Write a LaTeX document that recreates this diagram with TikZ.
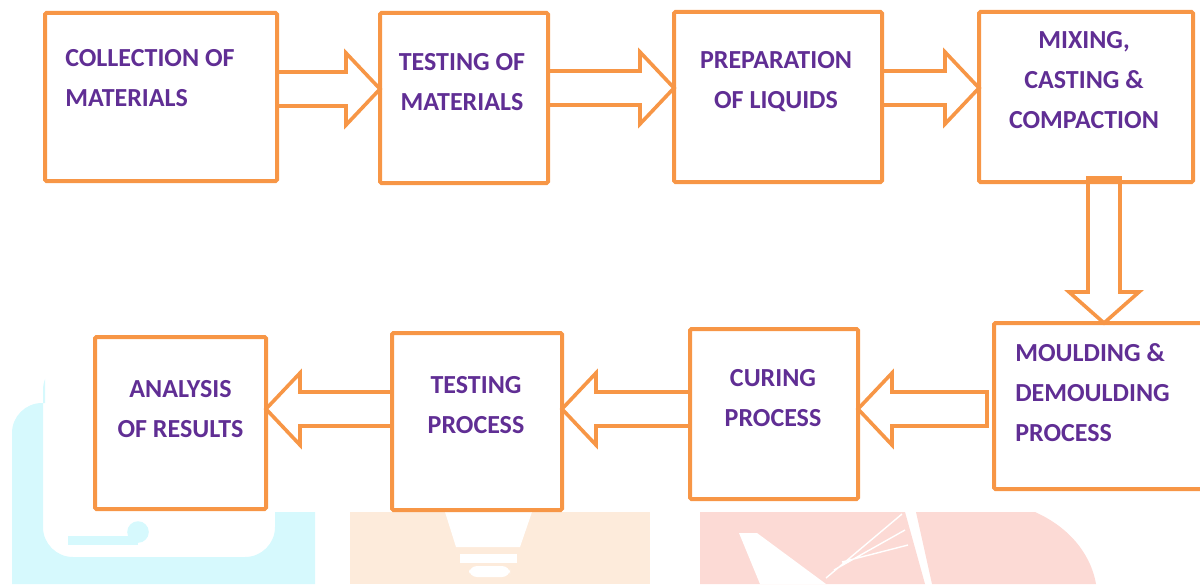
\documentclass[tikz,border=0pt]{standalone}
\usepackage{fontspec}
\setmainfont{Carlito}
\usepackage{tikz}
\usetikzlibrary{calc,positioning}
\definecolor{boxorange}{RGB}{247,150,70}
\definecolor{textpurple}{RGB}{96,46,148}
\definecolor{wmcyan}{RGB}{214,249,253}
\definecolor{wmpeach}{RGB}{253,235,219}
\definecolor{wmpink}{RGB}{252,218,213}
\pgfmathsetmacro{\px}{0.025cm}
\tikzset{
  stage/.style={draw=boxorange, line width=4*\px, rectangle, inner sep=0pt, outer sep=0pt, rounded corners=1pt},
  stagetext/.style={text=textpurple, font=\fontsize{18.5}{28.4}\selectfont\bfseries, inner sep=0pt, align=center, anchor=north},
  flow/.style={draw=boxorange, line width=3.6*\px, line join=miter},
}
% block arrow: start, tip, head length (sign gives direction)
\newcommand{\flowarrow}[3]{%
  \draw[flow] ($(#1)+(0,-17)$) -- ($(#2)-(#3,17)$) -- ($(#2)-(#3,36)$) -- (#2)
    -- ($(#2)-(#3,-36)$) -- ($(#2)-(#3,-17)$) -- ($(#1)+(0,17)$) -- cycle;}

\begin{document}
\begin{tikzpicture}[x=0.025cm, y=-0.025cm]
    \useasboundingbox (0,0) rectangle (1200,584);
    % watermark in the background
    \begin{scope}
        \clip (0,0) -- (45,0) -- (45,512) -- (1200,512) -- (1200,584) -- (0,584) -- cycle;
        \fill[wmcyan, even odd rule, rounded corners=0.75cm] (12,403) rectangle (315,640) (43,360) rectangle (275,557);
        \fill[wmcyan] (138,532) circle[radius=0.27cm];
        \fill[wmcyan] (68,536) rectangle (138,545);
        \fill[wmpeach] (350,512) rectangle (650,584);
        \fill[white] (445,512) -- (532,512) -- (520,547) -- (456,547) -- cycle;
        \fill[white] (460,554) rectangle (517,563);
        \fill[white, rounded corners=0.2cm] (469,566) rectangle (510,577);
        \fill[wmpink] (700,512) -- (905,512) -- (925,584) -- (700,584) -- cycle;
        \fill[wmpink] (916,512) -- (1035,512) .. controls (1075,530) and (1092,560) .. (1096,584) -- (932,584) -- cycle;
        \fill[white] (739,533) -- (757,533) -- (826,584) -- (760,584) -- cycle;
        \draw[white, line width=1pt] (826,578) -- (902,514) (834,570) -- (905,530) (842,562) -- (908,545);
    \end{scope}
    % stages, top row
    \node[stage, minimum width=232*\px, minimum height=168*\px] (col) at (161,97) {};
    \node[stage, minimum width=168*\px, minimum height=170*\px] (tst) at (464,98) {};
    \node[stage, minimum width=208*\px, minimum height=170*\px] (liq) at (778,97) {};
    \node[stage, minimum width=214*\px, minimum height=170*\px] (mix) at (1086,97) {};
    % stages, bottom row
    \node[stage, minimum width=210*\px, minimum height=166*\px] (mou) at (1099,406) {};
    \node[stage, minimum width=168*\px, minimum height=170*\px] (cur) at (774,414) {};
    \node[stage, minimum width=170*\px, minimum height=177*\px] (tpr) at (477,421.5) {};
    \node[stage, minimum width=171*\px, minimum height=172*\px] (ana) at (180.5,423) {};
    % texts
    \node[stagetext, align=left, anchor=north west] (col-t) at ($(col.north west)+(20,36.5)$) {COLLECTION OF\\MATERIALS};
    \node[stagetext] (tst-t) at ($(tst.north)+(-2,40.5)$) {TESTING OF\\MATERIALS};
    \node[stagetext] (liq-t) at ($(liq.north)+(-2,39.5)$) {PREPARATION\\OF LIQUIDS};
    \node[stagetext] (mix-t) at ($(mix.north)+(-2,19.5)$) {MIXING,\\CASTING \&\\COMPACTION};
    \node[stagetext, align=left, anchor=north west] (mou-t) at ($(mou.north west)+(21,20.5)$) {MOULDING \&\\DEMOULDING\\PROCESS};
    \node[stagetext] (cur-t) at ($(cur.north)+(-1,40.5)$) {CURING\\PROCESS};
    \node[stagetext] (tpr-t) at ($(tpr.north)+(-1,43.5)$) {TESTING\\PROCESS};
    \node[stagetext] (ana-t) at ($(ana.north)+(0,43.5)$) {ANALYSIS\\OF RESULTS};
    % arrow ends
    \coordinate (a1s) at (col.east |- 0,89);
    \coordinate (a1t) at (tst.west |- 0,89);
    \coordinate (a2s) at (tst.east |- 0,88);
    \coordinate (a2t) at (liq.west |- 0,88);
    \coordinate (a3s) at (mix.west |- 0,88);
    \coordinate (a3p) at (liq.east |- 0,88);
    \coordinate (a4s) at (1104,178);
    \coordinate (a4t) at (1104,0 |- mou.north);
    \coordinate (a5s) at ($(mou.west |- 0,409)+(-7,0)$);
    \coordinate (a5t) at (cur.east |- 0,409);
    \coordinate (a6s) at (cur.west |- 0,409);
    \coordinate (a6t) at (tpr.east |- 0,409);
    \coordinate (a7s) at (tpr.west |- 0,409);
    \coordinate (a7t) at (ana.east |- 0,409);
    % arrows
    \flowarrow{a1s}{a1t}{34}
    \flowarrow{a2s}{a2t}{34}
    \flowarrow{a3p}{a3s}{34}
    \draw[flow] ($(a4s)+(-16,0)$) -- ($(a4t)+(-16,-31)$) -- ($(a4t)+(-35,-31)$) -- (a4t)
        -- ($(a4t)+(35,-31)$) -- ($(a4t)+(16,-31)$) -- ($(a4s)+(16,0)$) -- cycle;
    \flowarrow{a5s}{a5t}{-34}
    \flowarrow{a6s}{a6t}{-34}
    \flowarrow{a7s}{a7t}{-34}
\end{tikzpicture}
\end{document}
